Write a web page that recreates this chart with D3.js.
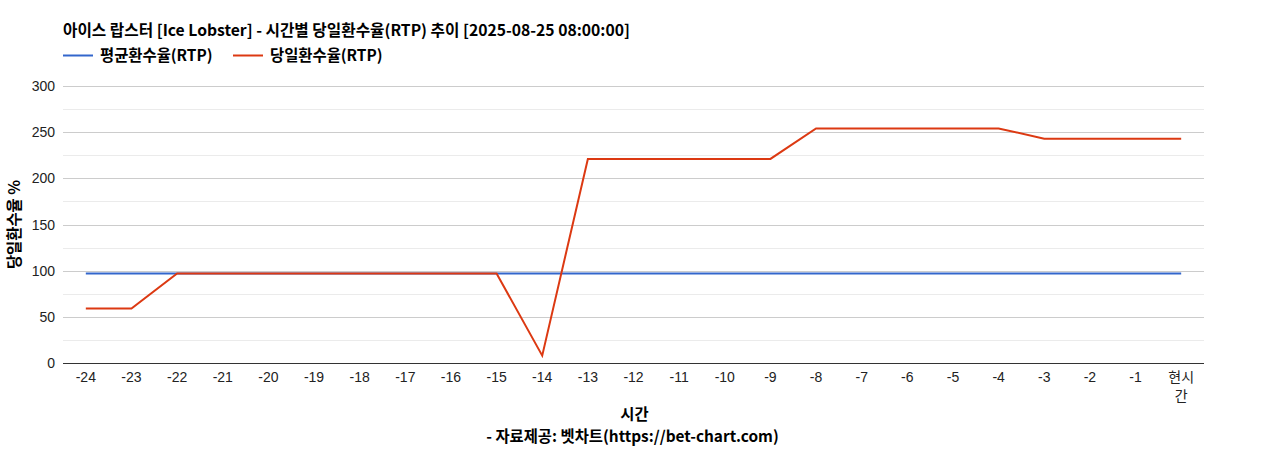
<!DOCTYPE html>
<html>
<head>
<meta charset="utf-8">
<title>아이스 랍스터 RTP</title>
<script src="https://cdn.jsdelivr.net/npm/d3@7"></script>
<style>
  body { margin: 0; background: #fff; }
  svg text { font-family: "Liberation Sans", Arial, "Noto Sans CJK KR", sans-serif; }
  .kr { font-family: "Noto Sans CJK KR", "Liberation Sans", sans-serif; }
</style>
</head>
<body>
<svg id="chart" width="1268" height="450"></svg>
<script>
  var categories = ['-24','-23','-22','-21','-20','-19','-18','-17','-16','-15','-14','-13',
                    '-12','-11','-10','-9','-8','-7','-6','-5','-4','-3','-2','-1','현시간'];
  var avgRtp   = [97,97,97,97,97,97,97,97,97,97,97,97,97,97,97,97,97,97,97,97,97,97,97,97,97];
  var dailyRtp = [59,59,97,97,97,97,97,97,97,97,8,221,221,221,221,221,254,254,254,254,254,243,243,243,243];
  var yTicks = [0, 50, 100, 150, 200, 250, 300];
  var seriesNames = ['평균환수율(RTP)', '당일환수율(RTP)'];
  var seriesColors = ['#3366cc', '#dc3912'];

  var svg = d3.select('#chart');
  var plotL = 63, plotR = 1204, plotT = 86, plotB = 363;
  var boldSize = 15.4;

  var x = d3.scaleBand().domain(categories).range([plotL, plotR]);
  var y = d3.scaleLinear().domain([0, 300]).range([plotB, plotT]);

  // minor + major gridlines
  var minor = d3.range(25, 300, 50);
  svg.append('g').selectAll('line').data(minor).join('line')
      .attr('x1', plotL).attr('x2', plotR)
      .attr('y1', function(d) { return Math.round(y(d)) + 0.5; })
      .attr('y2', function(d) { return Math.round(y(d)) + 0.5; })
      .attr('stroke', '#ebebeb');
  svg.append('g').selectAll('line').data(yTicks.slice(1)).join('line')
      .attr('x1', plotL).attr('x2', plotR)
      .attr('y1', function(d) { return Math.round(y(d)) + 0.5; })
      .attr('y2', function(d) { return Math.round(y(d)) + 0.5; })
      .attr('stroke', '#cccccc');

  // y tick labels
  svg.append('g').selectAll('text').data(yTicks).join('text')
      .attr('x', 55)
      .attr('y', function(d) { return y(d) + 5; })
      .attr('text-anchor', 'end')
      .attr('font-size', 14)
      .attr('fill', '#222')
      .text(function(d) { return d; });

  // lines
  var series = [avgRtp, dailyRtp];
  var line = d3.line()
      .x(function(d, i) { return x(categories[i]) + x.bandwidth() / 2; })
      .y(function(d) { return y(d); });
  series.forEach(function(s, i) {
    svg.append('path')
        .datum(s)
        .attr('d', line)
        .attr('fill', 'none')
        .attr('stroke', seriesColors[i])
        .attr('stroke-width', 2);
  });

  // baseline
  svg.append('line')
      .attr('x1', plotL).attr('x2', plotR)
      .attr('y1', plotB + 0.5).attr('y2', plotB + 0.5)
      .attr('stroke', '#333');

  // x tick labels (the non-numeric one wraps onto two lines)
  var xl = svg.append('g').selectAll('text').data(categories).join('text')
      .attr('text-anchor', 'middle')
      .attr('font-size', 14)
      .attr('fill', '#222')
      .attr('transform', function(d) { return 'translate(' + (x(d) + x.bandwidth() / 2) + ',382)'; });
  xl.each(function(d) {
    var t = d3.select(this);
    if (isNaN(+d)) {
      t.attr('class', 'kr');
      t.append('tspan').attr('x', 0).attr('dy', 0).text(d.slice(0, 2));
      t.append('tspan').attr('x', 0).attr('dy', 19).text(d.slice(2));
    } else {
      t.text(d);
    }
  });

  // title
  svg.append('text').attr('class', 'kr')
      .attr('x', 63).attr('y', 36)
      .attr('font-size', 15.7).attr('font-weight', 'bold').attr('fill', '#000')
      .text('아이스 랍스터 [Ice Lobster] - 시간별 당일환수율(RTP) 추이 [2025-08-25 08:00:00]');

  // legend
  var legendX = [63, 233];
  seriesNames.forEach(function(name, i) {
    var g = svg.append('g').attr('transform', 'translate(' + legendX[i] + ',55)');
    g.append('line').attr('x1', 0).attr('x2', 30).attr('y1', 0.5).attr('y2', 0.5)
        .attr('stroke', seriesColors[i]).attr('stroke-width', 2);
    g.append('text').attr('class', 'kr')
        .attr('x', 37).attr('y', 5.5)
        .attr('font-size', boldSize).attr('font-weight', 'bold').attr('fill', '#000')
        .text(name);
  });

  // axis titles
  svg.append('text').attr('class', 'kr')
      .attr('transform', 'translate(20,' + ((plotT + plotB) / 2) + ') rotate(-90)')
      .attr('text-anchor', 'middle')
      .attr('font-size', boldSize).attr('font-weight', 'bold').attr('fill', '#000')
      .text('당일환수율 %');
  svg.append('text').attr('class', 'kr')
      .attr('x', (plotL + plotR) / 2 + 1).attr('y', 420)
      .attr('text-anchor', 'middle')
      .attr('font-size', boldSize).attr('font-weight', 'bold').attr('fill', '#000')
      .text('시간');
  svg.append('text').attr('class', 'kr')
      .attr('x', (plotL + plotR) / 2 - 1).attr('y', 442)
      .attr('text-anchor', 'middle')
      .attr('font-size', boldSize).attr('font-weight', 'bold').attr('fill', '#000')
      .text('- 자료제공: 벳차트(https://bet-chart.com)');
</script>
</body>
</html>
